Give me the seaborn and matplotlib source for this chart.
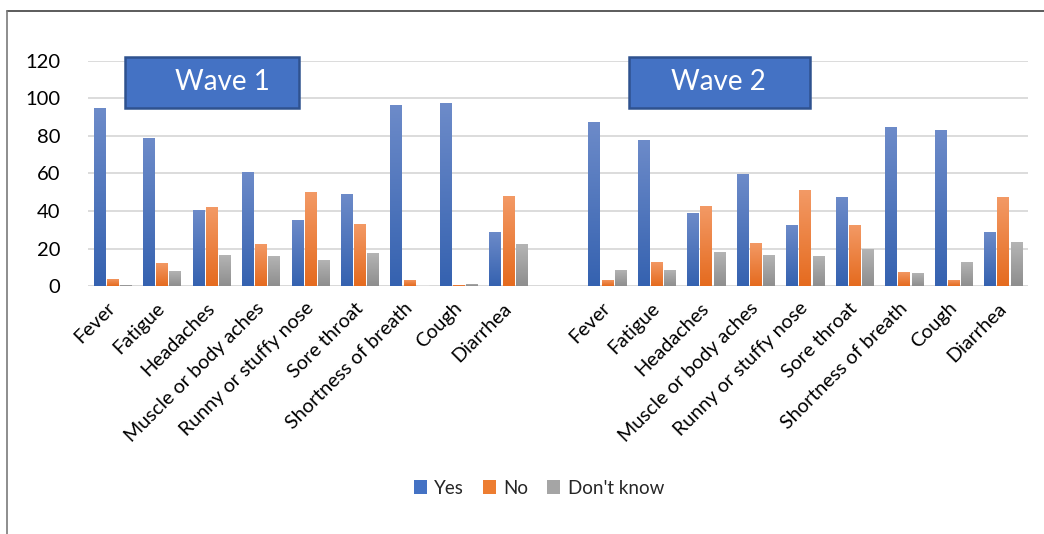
import numpy as np
import pandas as pd
import matplotlib
matplotlib.use("Agg")
import matplotlib.pyplot as plt
import matplotlib.colors as mcolors
from matplotlib.patches import Rectangle, Patch
from matplotlib.lines import Line2D
import seaborn as sns

symptoms = ["Fever", "Fatigue", "Headaches", "Muscle or body aches",
            "Runny or stuffy nose", "Sore throat", "Shortness of breath",
            "Cough", "Diarrhea"]
series = ["Yes", "No", "Don't know"]

wave1_yes = [95.0, 79.0, 40.7, 60.9, 35.3, 49.2, 96.6, 97.6, 28.9]
wave1_no = [3.9, 12.4, 42.3, 22.5, 50.2, 33.2, 3.4, 0.7, 48.1]
wave1_dk = [0.7, 8.2, 16.7, 16.2, 14.0, 17.8, 0.0, 1.2, 22.5]

wave2_yes = [87.5, 77.9, 39.1, 59.8, 32.7, 47.6, 84.9, 83.3, 28.9]
wave2_no = [3.4, 13.0, 42.8, 23.1, 51.3, 32.7, 7.6, 3.4, 47.6]
wave2_dk = [8.7, 8.7, 18.3, 16.7, 16.2, 19.9, 7.1, 13.0, 23.6]

yticks = [0, 20, 40, 60, 80, 100, 120]
wave_titles = ["Wave 1", "Wave 2"]

# build long table
rows = []
waves = [(wave1_yes, wave1_no, wave1_dk), (wave2_yes, wave2_no, wave2_dk)]
for w, (y, n, d) in enumerate(waves, start=1):
    for i, s in enumerate(symptoms):
        key = f"W{w}_{s}"
        rows.append((key, "Yes", y[i]))
        rows.append((key, "No", n[i]))
        rows.append((key, "Don't know", d[i]))
df = pd.DataFrame(rows, columns=["slot", "answer", "value"])
order = [f"W1_{s}" for s in symptoms] + ["gap"] + [f"W2_{s}" for s in symptoms]
labels = symptoms + [""] + symptoms

sns.set_theme(style="white")
plt.rcParams["font.family"] = ["Lato", "DejaVu Sans"]

base_colors = {"Yes": "#4472C4", "No": "#ED7D31", "Don't know": "#A5A5A5"}
grad = {
    "Yes": ("#6d8bc9", "#3562b0"),
    "No": ("#f39a66", "#e56b1f"),
    "Don't know": ("#b5b5b5", "#8e8e8e"),
}

fig = plt.figure(figsize=(10.44, 5.34), dpi=100)
ax = fig.add_axes([88 / 1044, 1 - 286 / 534, 940 / 1044, 225 / 534])

sns.barplot(data=df, x="slot", y="value", hue="answer", order=order,
            hue_order=series, palette=base_colors, width=0.8, gap=0.1,
            legend=False, ax=ax, errorbar=None, saturation=1)

# gradient overlay per bar
for container, h in zip(ax.containers, series):
    top, bot = grad[h]
    cmap = mcolors.LinearSegmentedColormap.from_list("g", [bot, top])
    for bar in container:
        if bar.get_height() <= 0:
            continue
        x0, y0 = bar.get_x(), bar.get_y()
        w_, h_ = bar.get_width(), bar.get_height()
        img = np.linspace(0, 1, 100).reshape(-1, 1)
        im = ax.imshow(img, cmap=cmap, origin="lower", aspect="auto",
                       extent=[x0, x0 + w_, y0, y0 + h_],
                       vmin=0, vmax=1, zorder=bar.get_zorder() + 0.1)
        im.set_clip_path(bar)
        bar.set_edgecolor("none")

ax.set_xlim(-0.5, len(order) - 0.5)
ax.set_ylim(0, 120)
ax.set_yticks(yticks)
ax.set_yticklabels([str(t) for t in yticks], fontsize=14.5, color="#000000")
ax.tick_params(axis="y", length=0, pad=20)
ax.set_xticks(range(len(order)))
ax.set_xticklabels(labels, rotation=45, ha="right", va="center",
                   rotation_mode="anchor", fontsize=14.2, color="#000000")
ax.tick_params(axis="x", length=0, pad=14)
ax.set_xlabel("")
ax.set_ylabel("")
ax.grid(axis="y", color="#d9d9d9", linewidth=1.3)
ax.set_axisbelow(True)
for sp in ax.spines.values():
    sp.set_visible(False)
ax.axhline(0, color="#d9d9d9", linewidth=1.3, zorder=0.5)

# Wave boxes
boxes = [(125, 57, 174, 51), (629, 57, 181, 51)]
text_cx = [222, 718]
for (bx, by, bw, bh), title, tcx in zip(boxes, wave_titles, text_cx):
    rect = Rectangle((bx / 1044, 1 - (by + bh) / 534), bw / 1044, bh / 534,
                     transform=fig.transFigure, facecolor="#4472C4",
                     edgecolor="#2F528F", linewidth=1.8, zorder=5)
    fig.patches.append(rect)
    fig.text(tcx / 1044, 1 - (by + bh / 2) / 534, title,
             ha="center", va="center", color="white", fontsize=20, zorder=6)

# Legend
handles = [Patch(facecolor=base_colors[s], edgecolor="none") for s in series]
fig.legend(handles, series, loc="center", bbox_to_anchor=(539 / 1044, 1 - 488 / 534),
           ncol=3, frameon=False, fontsize=13.5, handlelength=0.7,
           handleheight=0.7, handletextpad=0.4, columnspacing=1.0)

# Outer border (top and left)
fig.add_artist(Line2D([7 / 1044, 1], [1 - 11 / 534, 1 - 11 / 534],
                      transform=fig.transFigure, color="#404040", linewidth=1.2))
fig.add_artist(Line2D([7 / 1044, 7 / 1044], [0, 1 - 11 / 534],
                      transform=fig.transFigure, color="#7a7a7a", linewidth=1.2))

fig.savefig("out.png", dpi=100, facecolor="white")
